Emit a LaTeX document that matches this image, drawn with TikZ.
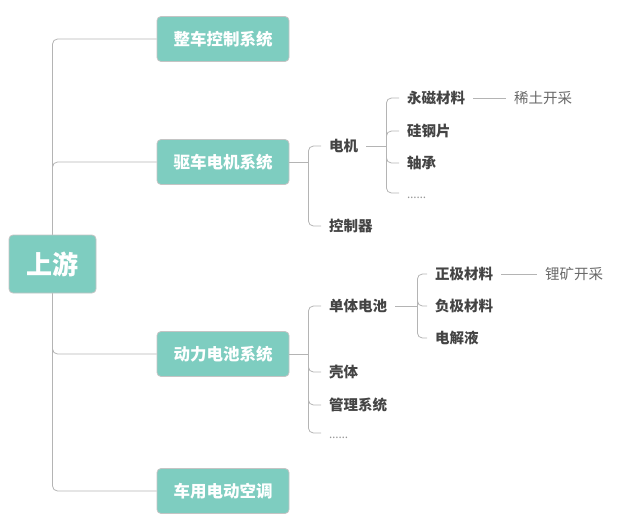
\documentclass[tikz,border=0pt]{standalone}
\usepackage{fontspec}
\setmainfont{Noto Sans CJK SC}
\newfontfamily\latinfont{Noto Sans}
\usepackage{tikz}
\usetikzlibrary{positioning}
\definecolor{mintfill}{RGB}{126,205,192}
\definecolor{boxedge}{RGB}{196,196,196}
\definecolor{linegray}{RGB}{180,180,180}
\definecolor{partgray}{RGB}{68,68,68}
\definecolor{srcgray}{RGB}{105,105,105}
\definecolor{dotgray}{RGB}{150,150,150}
\tikzset{
  rootbox/.style={rectangle, rounded corners=4pt, draw=boxedge, line width=0.8pt, fill=mintfill,
                  text=white, inner sep=0pt, minimum width=87pt, minimum height=58pt,
                  font=\bfseries\fontsize{26}{30}\selectfont},
  sysbox/.style={rootbox, minimum width=132pt, minimum height=45pt,
                 font=\bfseries\fontsize{16.5}{20}\selectfont},
  part/.style={anchor=west, inner xsep=8pt, inner ysep=0pt, text=partgray,
               text height=12.8pt, text depth=1.7pt, font=\bfseries\fontsize{14.5}{17}\selectfont},
  source/.style={part, text=srcgray, font=\fontsize{14.5}{17}\selectfont},
  more/.style={part, text=dotgray, font=\latinfont\fontsize{12}{14}\selectfont},
  link/.style={draw=linegray, line width=0.8pt, rounded corners=5pt},
}

\begin{document}
\begin{tikzpicture}[x=1pt, y=-1pt]
\useasboundingbox (0,0) rectangle (623,525);
% root and first level
\node[rootbox] (root) at (52.5,264) {上游};
\node[sysbox] (ctrl) at (223,39) {整车控制系统};
\node[sysbox] (motor) at (223,162) {驱车电机系统};
\node[sysbox] (battery) at (223,354) {动力电池系统};
\node[sysbox] (aircon) at (223,491) {车用电动空调};
\draw[link] (root.north) |- (ctrl.west);
\draw[link] (root.north) |- (motor.west);
\draw[link] (root.south) |- (battery.west);
\draw[link] (root.south) |- (aircon.west);

% drive motor branch
\node[part] (dianji) at (321,146) {电机};
\node[part] (kongzhiqi) at (321,226) {控制器};
\draw[link] (motor.east) -- ++(19,0) coordinate (motorfork);
\foreach \c in {dianji, kongzhiqi}
  \draw[link] (motorfork) |- (\c.west);

\node[part] (yongci) at (399,98) {永磁材料};
\node[part] (guigang) at (399,131) {硅钢片};
\node[part] (zhoucheng) at (399,163) {轴承};
\node[more] (motormore) at (399,193) {……};
\draw[link] (dianji.east) -- ++(20,0) coordinate (dianjifork);
\foreach \c in {yongci, guigang, zhoucheng, motormore}
  \draw[link] (dianjifork) |- (\c.west);
\node[source] (xitu) at (506,98) {稀土开采};
\draw[link] (yongci) -- (xitu);

% power battery branch
\node[part] (danti) at (321,306) {单体电池};
\node[part] (keti) at (321,372) {壳体};
\node[part] (guanli) at (321,405) {管理系统};
\node[more] (batterymore) at (321,433) {……};
\draw[link] (battery.east) -- ++(19,0) coordinate (batteryfork);
\foreach \c in {danti, keti, guanli, batterymore}
  \draw[link] (batteryfork) |- (\c.west);

\node[part] (zhengji) at (427,274) {正极材料};
\node[part] (fuji) at (427,306) {负极材料};
\node[part] (dianjieye) at (427,338) {电解液};
\draw[link] (danti.east) -- ++(22,0) coordinate (dantifork);
\foreach \c in {zhengji, fuji, dianjieye}
  \draw[link] (dantifork) |- (\c.west);
\node[source] (likuang) at (537,274) {锂矿开采};
\draw[link] (zhengji) -- (likuang);
\end{tikzpicture}
\end{document}
